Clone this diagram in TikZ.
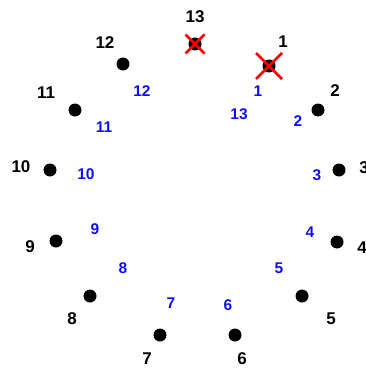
\documentclass[tikz,border=0pt]{standalone}
\usepackage{fontspec}
\setmainfont{Liberation Sans}
\usepackage{tikz}
\usepackage{xcolor}
\definecolor{numblue}{RGB}{15,15,245}
\tikzset{
  dot/.style={circle, fill=black, inner sep=0pt, minimum size=13pt},
  outlab/.style={font=\bfseries\fontsize{17}{19}\selectfont, text=black, inner sep=0pt},
  inlab/.style={font=\bfseries\fontsize{15.5}{17}\selectfont, text=numblue, inner sep=0pt},
  cross/.style={red, line width=2.6pt}
}
\begin{document}
\begin{tikzpicture}[x=1pt, y=-1pt]
\useasboundingbox (0,0) rectangle (366,369);
% Punti sulla circonferenza
\node[dot] (p13) at (195,44) {};
\node[dot] (p1) at (269,66) {};
\node[dot] (p2) at (318,110) {};
\node[dot] (p3) at (339,170) {};
\node[dot] (p4) at (337,242) {};
\node[dot] (p5) at (302,296) {};
\node[dot] (p6) at (235,335) {};
\node[dot] (p7) at (160,335) {};
\node[dot] (p8) at (90,296) {};
\node[dot] (p9) at (56,241) {};
\node[dot] (p10) at (50,170) {};
\node[dot] (p11) at (75,110) {};
\node[dot] (p12) at (123,64) {};
% Numeri esterni
\node[outlab] (l13) at (195,17) {13};
\node[outlab] (l1) at (283,42) {1};
\node[outlab] (l2) at (335,91) {2};
\node[outlab] (l3) at (364,168) {3};
\node[outlab] (l4) at (362,248) {4};
\node[outlab] (l5) at (331,319) {5};
\node[outlab] (l6) at (242,359) {6};
\node[outlab] (l7) at (147,359) {7};
\node[outlab] (l8) at (72,319) {8};
\node[outlab] (l9) at (30,247) {9};
\node[outlab] (l10) at (21,167) {10};
\node[outlab] (l11) at (46,93) {11};
\node[outlab] (l12) at (105,43) {12};
% Numeri interni (blu)
\node[inlab] (b13) at (239,114) {13};
\node[inlab] (b1) at (258,91) {1};
\node[inlab] (b2) at (298,121) {2};
\node[inlab] (b3) at (317,175) {3};
\node[inlab] (b4) at (310,232) {4};
\node[inlab] (b5) at (279,268) {5};
\node[inlab] (b6) at (228,305) {6};
\node[inlab] (b7) at (171,303) {7};
\node[inlab] (b8) at (123,268) {8};
\node[inlab] (b9) at (95,229) {9};
\node[inlab] (b10) at (86,174) {10};
\node[inlab] (b11) at (104,127) {11};
\node[inlab] (b12) at (142,91) {12};
% Croci rosse
\draw[cross] ([shift={(-9.5,-9.5)}]p13.center) -- ([shift={(9.5,9.5)}]p13.center);
\draw[cross] ([shift={(-9.5,9.5)}]p13.center) -- ([shift={(9.5,-9.5)}]p13.center);
\draw[cross] ([shift={(-13,-13)}]p1.center) -- ([shift={(13,13)}]p1.center);
\draw[cross] ([shift={(-13,13)}]p1.center) -- ([shift={(13,-13)}]p1.center);
\end{tikzpicture}
\end{document}
